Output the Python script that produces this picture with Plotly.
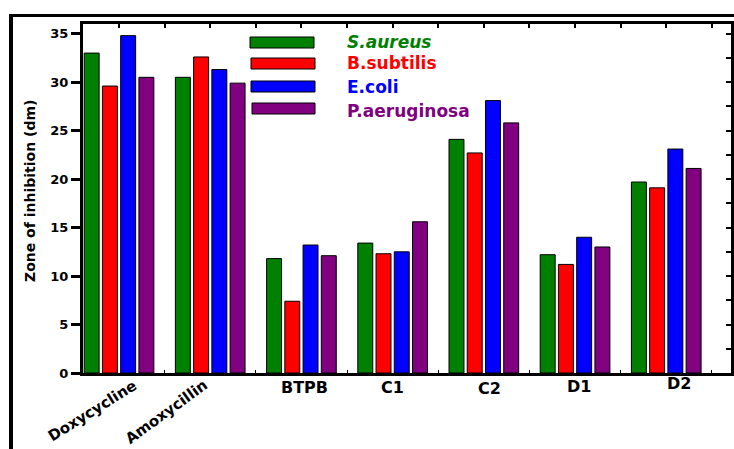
import plotly.graph_objects as go

# ---- data ----
categories = ["Doxycycline", "Amoxycillin", "BTPB", "C1", "C2", "D1", "D2"]
series_names = ["S.aureus", "B.subtilis", "E.coli", "P.aeruginosa"]
s_aureus = [33.0, 30.5, 11.8, 13.4, 24.1, 12.2, 19.7]
b_subtilis = [29.6, 32.6, 7.4, 12.3, 22.7, 11.2, 19.1]
e_coli = [34.8, 31.3, 13.2, 12.5, 28.1, 14.0, 23.1]
p_aeruginosa = [30.5, 29.9, 12.1, 15.6, 25.8, 13.0, 21.1]
y_ticks = [0, 5, 10, 15, 20, 25, 30, 35]
y_title = "Zone of inhibition (dm)"

# ---- style ----
colors = ["#008000", "#FF0000", "#0000FF", "#800080"]
series = [s_aureus, b_subtilis, e_coli, p_aeruginosa]
W, H = 734, 449
ML, MR, MT, MB = 83, 3, 24, 76
PW, PH = W - ML - MR, H - MT - MB
TICKFONT = "DejaVu Sans"


def px_x(px):
    return (px - ML) / PW


def px_y(py):
    return (H - MB - py) / PH


xs = list(range(len(categories)))
fig = go.Figure()
for name, vals, col in zip(series_names, series, colors):
    fig.add_trace(go.Bar(x=xs, y=vals, name=name, marker_color=col,
                         marker_line_color="black", marker_line_width=1,
                         showlegend=False))
# empty trace to anchor the mirrored (top/right) axes
fig.add_trace(go.Scatter(x=[], y=[], xaxis="x2", yaxis="y2", showlegend=False))

xr = [-0.395, 6.71]
yr = [0, 36]
fig.update_layout(
    width=W, height=H,
    margin=dict(l=ML, r=MR, t=MT, b=MB, pad=0),
    paper_bgcolor="white", plot_bgcolor="white",
    barmode="group", bargap=0.2, bargroupgap=0.18,
    xaxis=dict(range=xr, showgrid=False, zeroline=False, showline=True,
               linecolor="black", linewidth=2.5, showticklabels=False,
               tickvals=[i + 0.5 for i in range(-1, 7)], ticks="inside",
               ticklen=3, tickwidth=1, tickcolor="black"),
    yaxis=dict(range=yr, tickvals=y_ticks, showgrid=False, zeroline=False,
               showline=True, linecolor="black", linewidth=3, ticks="outside",
               ticklen=9, tickwidth=2.5, tickcolor="black",
               tickfont=dict(family=TICKFONT, size=13, color="black",
                             weight="bold")),
    xaxis2=dict(range=xr, overlaying="x", side="top", anchor="y",
                showgrid=False, zeroline=False, showline=True,
                linecolor="black", linewidth=2.5, showticklabels=False,
                tickvals=[i * 0.5 for i in range(0, 14)], ticks="inside",
                ticklen=4, tickwidth=1.5, tickcolor="black"),
    yaxis2=dict(range=yr, overlaying="y", side="right", anchor="x",
                showgrid=False, zeroline=False, showline=True,
                linecolor="black", linewidth=3, showticklabels=False,
                dtick=2.5, tick0=0, ticks="inside", ticklen=5, tickwidth=1.5,
                tickcolor="black"),
    font=dict(family=TICKFONT, color="black"),
)

# outer frame (cropped border)
fig.add_shape(type="line", xref="paper", yref="paper",
              x0=px_x(9), x1=px_x(W + 5), y0=px_y(15.5), y1=px_y(15.5),
              line=dict(color="black", width=3))
fig.add_shape(type="line", xref="paper", yref="paper",
              x0=px_x(11), x1=px_x(11), y0=px_y(14), y1=px_y(H + 5),
              line=dict(color="black", width=4))

# y title
fig.add_annotation(text="<b>%s</b>" % y_title, xref="paper", yref="paper",
                   x=px_x(30), y=px_y(191), textangle=-90, showarrow=False,
                   xanchor="center", yanchor="middle",
                   font=dict(family=TICKFONT, size=14, color="black"))

# category labels: (xshift px, centre y px, angle, font size)
label_shift = [(-27, 411, -32, 15), (-44, 412, -36, 15), (3, 387, 0, 16),
               (0, 387, 0, 16), (6, 389, 0, 16), (4, 386, 0, 16),
               (13, 383, 0, 16)]
for i, (cat, (dx, py, ang, fs)) in enumerate(zip(categories, label_shift)):
    fig.add_annotation(text="<b>%s</b>" % cat, xref="x", yref="paper",
                       x=i, xshift=dx, y=px_y(py), textangle=ang,
                       showarrow=False, xanchor="center", yanchor="middle",
                       font=dict(family=TICKFONT, size=fs, color="black"))

# custom legend
leg_rows = [(250, 314, 37, 48, 42), (251, 315, 58, 69, 63),
            (251, 315, 81, 92, 87), (252, 315, 103, 114, 111)]
for name, col, (x0, x1, y0, y1, ty) in zip(series_names, colors, leg_rows):
    fig.add_shape(type="rect", xref="paper", yref="paper",
                  x0=px_x(x0), x1=px_x(x1), y0=px_y(y1), y1=px_y(y0),
                  fillcolor=col, line=dict(color="black", width=1))
    txt = "<b><i>%s</i></b>" % name if name == "S.aureus" else "<b>%s</b>" % name
    fig.add_annotation(text=txt, xref="paper", yref="paper",
                       x=px_x(345), y=px_y(ty), showarrow=False,
                       xanchor="left", yanchor="middle",
                       font=dict(family=TICKFONT, size=17, color=col))

fig.write_html("out.html")
